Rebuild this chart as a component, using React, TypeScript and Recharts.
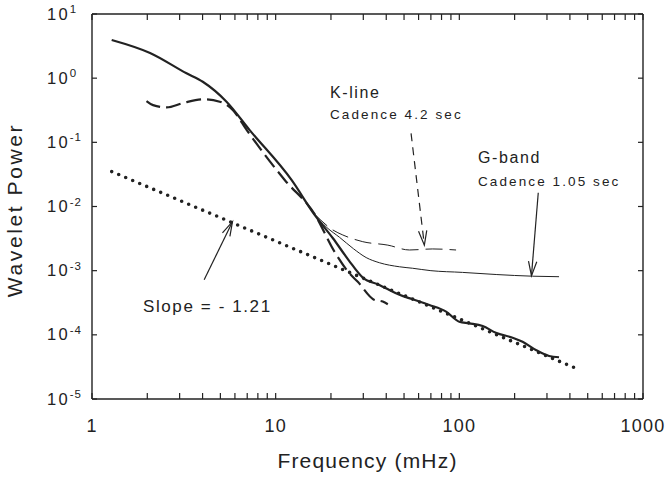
import React from 'react';
import { LineChart, Line, XAxis, YAxis, ReferenceLine } from 'recharts';

// frequency ticks (mHz) and power decades
const freqTicks = [1, 2, 3, 4, 5, 6, 7, 8, 9, 10, 20, 30, 40, 50, 60, 70, 80, 90, 100, 200, 300, 400, 500, 600, 700, 800, 900, 1000];
const freqLabels = [1, 10, 100, 1000];
const powerTicks = [1e-5, 1e-4, 1e-3, 1e-2, 1e-1, 1, 10];
const powerExp = ['-5', '-4', '-3', '-2', '-1', '0', '1'];

// G-band, cadence 1.05 sec (thick curve)
const gBandFreq = [1.28, 2.07, 3.27, 4.01, 5.4, 7.22, 12.2, 16.3, 20.5, 25, 29.8, 36.7, 41.6, 47.2, 55.7, 68.7, 84.7, 100, 113, 134, 158, 195, 221, 261, 308, 349];
const gBandPower = [3.94, 2.47, 1.19, 0.88, 0.43, 0.155, 0.0259, 7.4e-3, 3.2e-3, 1.45e-3, 7.8e-4, 6.0e-4, 5.0e-4, 4.2e-4, 3.58e-4, 2.92e-4, 2.3e-4, 1.6e-4, 1.51e-4, 1.37e-4, 1.08e-4, 9.0e-5, 7.8e-5, 5.8e-5, 4.68e-5, 4.47e-5];

// G-band thin branch
const gThinFreq = [16.3, 19, 22.3, 26.5, 31.1, 36.7, 47.2, 55.7, 70, 104, 160, 250, 349];
const gThinPower = [7.4e-3, 4.7e-3, 3.3e-3, 2.2e-3, 1.6e-3, 1.33e-3, 1.15e-3, 1.09e-3, 1.0e-3, 9.4e-4, 8.7e-4, 8.2e-4, 8.05e-4];

// K-line, cadence 4.2 sec (thick dashed)
const kLineFreq = [1.98, 2.15, 2.55, 3.13, 4.03, 4.96, 5.84, 6.96, 11.2, 16.3, 20.9, 25.2, 28, 34.5, 38.3, 40.8];
const kLinePower = [0.44, 0.38, 0.35, 0.41, 0.47, 0.43, 0.32, 0.155, 0.0259, 7.6e-3, 1.98e-3, 9.1e-4, 6.7e-4, 3.5e-4, 3.3e-4, 3.0e-4];

// K-line thin branch
const kThinFreq = [16.3, 20.5, 23.2, 29.8, 40.8, 53.5, 71.6, 96];
const kThinPower = [7.6e-3, 4.3e-3, 3.6e-3, 2.83e-3, 2.5e-3, 2.1e-3, 2.18e-3, 2.1e-3];

// power law fit, slope -1.21
const slopeFreq = [1.28, 432];
const slopePower = [0.035, 3.0e-5];

const zip = (f: number[], p: number[]) => f.map((v, i) => ({ f: v, p: p[i] }));

const FONT = "'Liberation Sans', Arial, Helvetica, sans-serif";
const INK = '#222';

const BottomTick = (props: any) => {
  const { x, y, payload } = props;
  const v = payload.value;
  return (
    <g>
      <line x1={x} y1={y} x2={x} y2={y - 6} stroke={INK} strokeWidth={1.2} />
      {freqLabels.includes(v) && (
        <text x={x} y={y + 33} textAnchor="middle" fontFamily={FONT} fontSize={18} letterSpacing={1.2} fill={INK}>
          {v}
        </text>
      )}
    </g>
  );
};

const TopTick = (props: any) => {
  const { x, y } = props;
  return <line x1={x} y1={y} x2={x} y2={y + 6} stroke={INK} strokeWidth={1.2} />;
};

const LeftTick = (props: any) => {
  const { x, y, payload } = props;
  const i = powerTicks.indexOf(payload.value);
  return (
    <g>
      <line x1={x} y1={y} x2={x + 5} y2={y} stroke={INK} strokeWidth={1.2} />
      <text x={x - 45} y={y + 5.5} fontFamily={FONT} fontSize={16.5} letterSpacing={2.2} fill={INK}>
        10
        <tspan dy={-6.5} fontSize={11.5} letterSpacing={0.8}>{powerExp[i]}</tspan>
      </text>
    </g>
  );
};

const RightTick = (props: any) => {
  const { x, y } = props;
  return <line x1={x} y1={y} x2={x - 5} y2={y} stroke={INK} strokeWidth={1.2} />;
};

const ArrowShape = (props: any) => {
  const { x1, y1, x2, y2, dashed } = props;
  const a = Math.atan2(y2 - y1, x2 - x1);
  const L = 15;
  const w = 0.28;
  const h1x = x2 - L * Math.cos(a - w);
  const h1y = y2 - L * Math.sin(a - w);
  const h2x = x2 - L * Math.cos(a + w);
  const h2y = y2 - L * Math.sin(a + w);
  return (
    <g>
      <line x1={x1} y1={y1} x2={x2} y2={y2} stroke={INK} strokeWidth={1.2} strokeDasharray={dashed ? '8 6' : undefined} />
      <polyline points={`${h1x},${h1y} ${x2},${y2} ${h2x},${h2y}`} fill="none" stroke={INK} strokeWidth={1.2} />
    </g>
  );
};

const axisLine = { stroke: INK, strokeWidth: 1.4 };

export default function App() {
  const W = 666;
  const H = 478;
  return (
    <div style={{ position: 'absolute', left: 0, top: 0, width: W, height: H }}>
      <LineChart width={W} height={H} margin={{ top: 8, right: 13, bottom: 39, left: 52 }}>
        <XAxis
          dataKey="f"
          type="number"
          scale="log"
          domain={[1, 1000]}
          ticks={freqTicks}
          interval={0}
          allowDataOverflow
          height={40}
          tickSize={0}
          tickMargin={0}
          tickLine={false}
          axisLine={axisLine}
          tick={<BottomTick />}
        />
        <XAxis
          xAxisId="top"
          orientation="top"
          dataKey="f"
          type="number"
          scale="log"
          domain={[1, 1000]}
          ticks={freqTicks}
          interval={0}
          allowDataOverflow
          height={6}
          tickSize={0}
          tickMargin={0}
          tickLine={false}
          axisLine={axisLine}
          tick={<TopTick />}
        />
        <YAxis
          dataKey="p"
          type="number"
          scale="log"
          domain={[1e-5, 10]}
          ticks={powerTicks}
          interval={0}
          allowDataOverflow
          width={40}
          tickSize={0}
          tickMargin={0}
          tickLine={false}
          axisLine={axisLine}
          tick={<LeftTick />}
        />
        <YAxis
          yAxisId="right"
          orientation="right"
          dataKey="p"
          type="number"
          scale="log"
          domain={[1e-5, 10]}
          ticks={powerTicks}
          interval={0}
          allowDataOverflow
          width={10}
          tickSize={0}
          tickMargin={0}
          tickLine={false}
          axisLine={axisLine}
          tick={<RightTick />}
        />

        <Line data={zip(slopeFreq, slopePower)} dataKey="p" type="linear" stroke={INK} strokeWidth={3.6}
          strokeDasharray="0 7.6" strokeLinecap="round" dot={false} isAnimationActive={false} />
        <Line data={zip(gThinFreq, gThinPower)} dataKey="p" type="monotone" stroke={INK} strokeWidth={1}
          dot={false} isAnimationActive={false} />
        <Line data={zip(kThinFreq, kThinPower)} dataKey="p" type="monotone" stroke={INK} strokeWidth={1}
          strokeDasharray="17 7" dot={false} isAnimationActive={false} />
        <Line data={zip(kLineFreq, kLinePower)} dataKey="p" type="monotone" stroke={INK} strokeWidth={2.2}
          strokeDasharray="15 6" dot={false} isAnimationActive={false} />
        <Line data={zip(gBandFreq, gBandPower)} dataKey="p" type="monotone" stroke={INK} strokeWidth={2.2}
          dot={false} isAnimationActive={false} />

        <ReferenceLine segment={[{ x: 54.6, y: 0.138 }, { x: 64.5, y: 2.5e-3 }]} shape={(p: any) => <ArrowShape {...p} dashed />} />
        <ReferenceLine segment={[{ x: 269, y: 0.0164 }, { x: 247, y: 8.3e-4 }]} shape={(p: any) => <ArrowShape {...p} />} />
        <ReferenceLine segment={[{ x: 4.08, y: 7.2e-4 }, { x: 5.82, y: 5.8e-3 }]} shape={(p: any) => <ArrowShape {...p} />} />
      </LineChart>

      <svg width={W} height={H} style={{ position: 'absolute', left: 0, top: 0, pointerEvents: 'none' }}>
        <g fontFamily={FONT} fill={INK}>
          <text x={330} y={98} fontSize={16} letterSpacing={1.6}>K-line</text>
          <text x={330} y={119} fontSize={13.5} letterSpacing={2.1}>Cadence 4.2 sec</text>
          <text x={478} y={163} fontSize={16} letterSpacing={1.6}>G-band</text>
          <text x={478} y={186} fontSize={13.5} letterSpacing={2.1}>Cadence 1.05 sec</text>
          <text x={143} y={312} fontSize={17} letterSpacing={1.6}>Slope = - 1.21</text>
          <text x={367.5} y={468} fontSize={21} letterSpacing={1.2} textAnchor="middle">Frequency (mHz)</text>
          <text transform="translate(22,210) rotate(-90)" fontSize={21} letterSpacing={2.6} textAnchor="middle">Wavelet Power</text>
        </g>
      </svg>
    </div>
  );
}
